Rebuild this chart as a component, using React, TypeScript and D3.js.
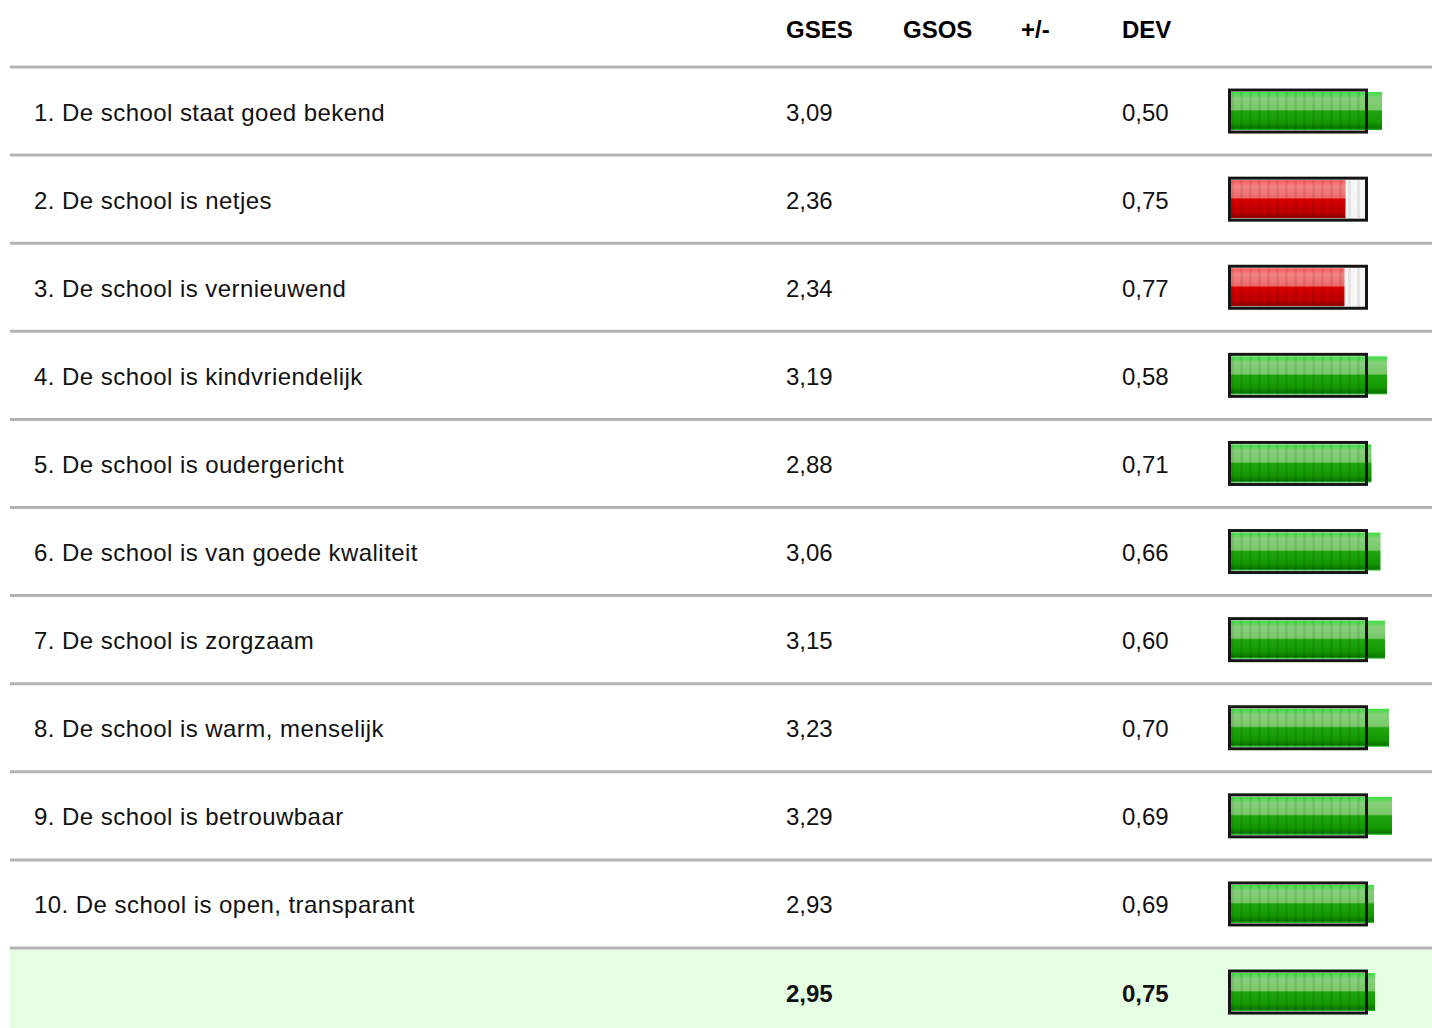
import React from "react";
import * as d3 from "d3";

const labels = [
  "1. De school staat goed bekend",
  "2. De school is netjes",
  "3. De school is vernieuwend",
  "4. De school is kindvriendelijk",
  "5. De school is oudergericht",
  "6. De school is van goede kwaliteit",
  "7. De school is zorgzaam",
  "8. De school is warm, menselijk",
  "9. De school is betrouwbaar",
  "10. De school is open, transparant",
];
const gses = [3.09, 2.36, 2.34, 3.19, 2.88, 3.06, 3.15, 3.23, 3.29, 2.93];
const dev = [0.5, 0.75, 0.77, 0.58, 0.71, 0.66, 0.6, 0.7, 0.69, 0.69];
const totalGses = 2.95;
const totalDev = 0.75;
const headers = ["GSES", "GSOS", "+/-", "DEV"];

const W = 1432;
const H = 1028;
const fmt = (v: number) => v.toFixed(2).replace(".", ",");

const App = () => {
  const rows = labels.map((l, i) => ({ label: l, gses: gses[i], dev: dev[i], total: false }));
  rows.push({ label: "", gses: totalGses, dev: totalDev, total: true });

  const y = d3.scaleBand<number>().domain(d3.range(rows.length)).range([67, 67 + rows.length * 88.1]);
  const x = d3.scaleLinear().domain([0, 4]).range([1227.5, 1427.5]);
  const headerX = d3.scaleOrdinal<string, number>().domain(headers).range([786, 903, 1021, 1122]);

  const frameX0 = 1229.5;
  const frameW = 137;
  const font = "'Liberation Sans', Arial, Helvetica, sans-serif";

  return (
    <div style={{ position: "absolute", left: 0, top: 0 }}>
      <svg width={W} height={H} style={{ display: "block" }}>
        <defs>
          <linearGradient id="gGreen" x1="0" y1="0" x2="0" y2="1">
            <stop offset="0%" stopColor="#3fe03f" />
            <stop offset="7%" stopColor="#5ad85a" />
            <stop offset="16%" stopColor="#86cf7a" />
            <stop offset="46%" stopColor="#7bc96a" />
            <stop offset="50%" stopColor="#1fa50f" />
            <stop offset="80%" stopColor="#149a00" />
            <stop offset="95%" stopColor="#0a7600" />
            <stop offset="100%" stopColor="#2bc52b" />
          </linearGradient>
          <linearGradient id="gRed" x1="0" y1="0" x2="0" y2="1">
            <stop offset="0%" stopColor="#ff5a5a" />
            <stop offset="16%" stopColor="#f58282" />
            <stop offset="46%" stopColor="#ee6b6b" />
            <stop offset="50%" stopColor="#dd0000" />
            <stop offset="88%" stopColor="#b80000" />
            <stop offset="100%" stopColor="#8a0000" />
          </linearGradient>
          <pattern id="stripes" width="9" height="10" patternUnits="userSpaceOnUse" x={1231}>
            <rect x="0" y="0" width="3" height="10" fill="#000" opacity="0.08" />
          </pattern>
        </defs>

        <rect width={W} height={H} fill="#fff" />

        {headers.map((h) => (
          <text key={h} x={headerX(h)} y={29} dominantBaseline="central" fontFamily={font}
            fontSize={24} fontWeight="bold" fill="#000">{h}</text>
        ))}

        {rows.map((r, i) => {
          const top = y(i)!;
          const cy = top + y.bandwidth() / 2;
          const red = r.gses < 2.5;
          return (
            <g key={i}>
              {r.total && <rect x={10} y={top + 1.5} width={W - 10} height={H - top} fill="#e5fde2" />}
              <line x1={10} x2={W} y1={top} y2={top} stroke="#b3b3b3" strokeWidth={3} />
              <text x={34} y={cy + 1} dominantBaseline="central" fontFamily={font} fontSize={24}
                letterSpacing={0.45} fill="#111">{r.label}</text>
              <text x={786} y={cy + 1} dominantBaseline="central" fontFamily={font} fontSize={24}
                fontWeight={r.total ? "bold" : "normal"} fill="#111">{fmt(r.gses)}</text>
              <text x={1122} y={cy + 1} dominantBaseline="central" fontFamily={font} fontSize={24}
                fontWeight={r.total ? "bold" : "normal"} fill="#111">{fmt(r.dev)}</text>
              <rect x={frameX0} y={cy - 21} width={frameW} height={42} fill="#fff" />
              <rect x={frameX0 + 1.5} y={cy - 19.5} width={frameW - 3} height={39} fill="#efefef" opacity={0.5} />
              <rect x={1231} y={cy - 19} width={x(r.gses) - 1231} height={38}
                fill={red ? "url(#gRed)" : "url(#gGreen)"} />
              <rect x={frameX0 + 1.5} y={cy - 19} width={frameW - 3} height={38} fill="url(#stripes)" />
              <rect x={frameX0} y={cy - 21} width={frameW} height={42} fill="none" stroke="#151515" strokeWidth={3} />
            </g>
          );
        })}
      </svg>
    </div>
  );
};

export default App;
